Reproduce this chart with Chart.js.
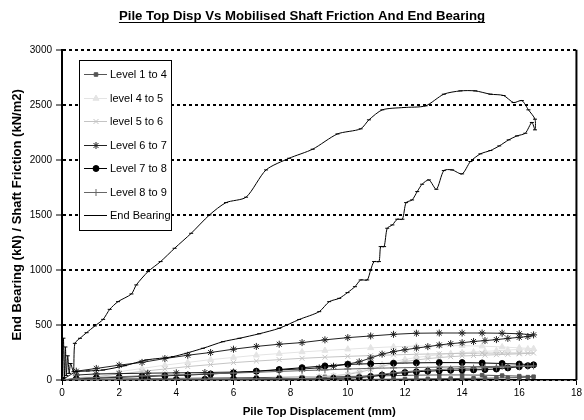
<!DOCTYPE html>
<html>
<head>
<meta charset="utf-8">
<script src="https://cdn.jsdelivr.net/npm/chart.js@4.4.1/dist/chart.umd.min.js"></script>
<style>
  html, body { margin: 0; padding: 0; background: #fff; }
  #chart { display: block; }
</style>
</head>
<body>
<canvas id="chart" width="584" height="420"></canvas>
<script>
// pile top displacement (mm) along the load / unload path, shared by the shaft friction levels
const dispPath = [0, 0.5, 1.2, 2.0, 2.8, 3.6, 4.4, 5.2, 6.0, 6.8, 7.6, 8.4, 9.2, 10.0, 10.8, 11.6, 12.4, 13.2, 14.0, 14.7, 15.4, 16.0, 16.5,
    16.3, 16.0, 15.6, 15.2, 14.8, 14.4, 14.0, 13.6, 13.2, 12.8, 12.4, 12.0, 11.6, 11.2, 10.8, 10.4, 10.0, 9.5, 9.0, 8.4, 7.6, 6.8, 6.0, 5.0, 4.0, 3.0, 2.0, 1.2, 0.5];

// mobilised shaft friction (kN/m2)
const level1to4 = [0, 5, 8, 10, 12, 14, 16, 18, 20, 22, 24, 26, 28, 32, 36, 40, 44, 46, 46, 44, 40, 35, 30,
    26, 22, 20, 18, 16, 15, 14, 13, 12, 11, 10, 9, 8, 7, 6, 6, 5, 5, 4, 4, 3, 3, 3, 2, 2, 2, 1, 1, 1];
const level4to5 = [0, 20, 45, 75, 105, 135, 160, 185, 205, 225, 240, 255, 268, 280, 292, 302, 308, 312, 312, 308, 300, 292, 285,
    282, 278, 272, 266, 260, 254, 248, 240, 230, 218, 204, 188, 168, 140, 110, 80, 55, 40, 30, 22, 16, 12, 10, 8, 6, 5, 4, 3, 2];
const level5to6 = [0, 12, 30, 55, 78, 100, 122, 140, 158, 172, 185, 197, 207, 215, 222, 228, 234, 238, 242, 244, 245, 245, 245,
    242, 238, 234, 230, 226, 222, 218, 212, 204, 194, 182, 168, 150, 125, 95, 70, 50, 38, 28, 20, 15, 11, 9, 7, 6, 5, 4, 3, 2];
const level6to7 = [0, 80, 105, 135, 160, 195, 225, 250, 280, 305, 325, 340, 365, 385, 400, 415, 425, 427, 427, 427, 425, 420, 410,
    395, 388, 378, 367, 358, 350, 339, 330, 318, 303, 290, 275, 258, 235, 200, 165, 145, 125, 110, 100, 92, 78, 72, 68, 65, 62, 58, 55, 45];
const level7to8 = [0, 10, 18, 25, 32, 38, 45, 55, 65, 80, 95, 112, 128, 142, 148, 152, 156, 158, 158, 155, 150, 145, 138,
    130, 120, 110, 100, 95, 92, 90, 88, 85, 80, 75, 68, 58, 45, 32, 22, 18, 15, 12, 10, 9, 8, 7, 6, 5, 4, 3, 2, 1];
const level8to9 = [0, 15, 22, 30, 37, 44, 50, 57, 63, 70, 78, 85, 92, 100, 106, 110, 114, 117, 120, 122, 124, 126, 128,
    125, 122, 118, 115, 112, 108, 105, 100, 95, 90, 83, 75, 65, 52, 40, 30, 24, 20, 16, 13, 11, 10, 9, 8, 7, 6, 5, 4, 3];

// end bearing (kN) has its own, finer displacement record
const endBearingDisp = [0, 0.05, 0.08, 0.12, 0.15, 0.2, 0.25, 0.3, 0.4, 0.45,
    0.63, 0.86, 1.15, 1.44, 1.67, 1.96, 2.43, 2.6, 3.01, 3.45, 3.94, 4.52, 5.16, 5.74, 6.44, 7.14, 7.95, 8.77, 9.64, 10.45,
    10.74, 11.21, 11.96, 12.72, 13.36, 13.94, 14.46, 14.99, 15.45, 15.8, 16.09, 16.32, 16.55, 16.55, 16.44,
    16.21, 15.92, 15.63, 15.3, 14.99, 14.64, 14.29, 14.0, 13.65, 13.36, 13.1, 12.84, 12.6, 12.43, 12.25,
    12.04, 11.91, 11.73, 11.56, 11.38, 11.27, 11.15, 11.09, 10.92, 10.8, 10.68, 10.45, 10.25, 9.99, 9.7,
    9.35, 9.0, 8.3, 7.6, 6.9, 6.21, 5.63, 4.93, 3.88, 2.95, 2.2, 1.44, 0.9, 0.5];
const endBearing = [0, 380, 20, 300, 40, 220, 60, 150, 75, 333,
    379, 430, 491, 551, 642, 712, 782, 864, 985, 1076, 1197, 1333, 1500, 1612, 1661, 1909, 2015, 2097, 2236, 2282,
    2364, 2455, 2476, 2491, 2597, 2627, 2627, 2597, 2585, 2521, 2539, 2455, 2370, 2273, 2340,
    2242, 2218, 2182, 2127, 2085, 2055, 1985, 1873, 1909, 1903, 1733, 1818, 1779, 1712, 1636,
    1612, 1461, 1461, 1409, 1379, 1212, 1212, 1076, 1076, 1000, 909, 909, 848, 794, 742,
    712, 621, 550, 470, 420, 379, 348, 288, 212, 182, 130, 91, 82, 78];

const xTicks = [0, 2, 4, 6, 8, 10, 12, 14, 16, 18];
const yTicks = [0, 500, 1000, 1500, 2000, 2500, 3000];

const FONT = "'Liberation Sans', Arial, sans-serif";
const TITLE = 'Pile Top Disp Vs Mobilised Shaft Friction And End Bearing';
const TITLE_SIZE = 13.2;

function toPoints(xs, ys) {
    return ys.map((y, i) => ({ x: xs[i], y: y }));
}

function series(label, xs, ys, color, style, radius, fill, order, tension) {
    return {
        label: label,
        data: toPoints(xs, ys),
        showLine: true,
        borderColor: color,
        backgroundColor: fill,
        borderWidth: 1,
        pointStyle: style,
        pointRadius: radius,
        pointBorderColor: color,
        pointBackgroundColor: fill,
        pointBorderWidth: 1,
        tension: tension,
        order: order
    };
}

// legend box sits inside the plot, top left
const insideLegend = {
    id: 'insideLegend',
    afterDraw(chart) {
        const ctx = chart.ctx;
        const x0 = 79, y0 = 60, w = 92, h = 170;
        ctx.save();
        ctx.fillStyle = '#fff';
        ctx.fillRect(x0, y0, w, h);
        ctx.strokeStyle = '#000';
        ctx.lineWidth = 1;
        ctx.strokeRect(x0 + 0.5, y0 + 0.5, w, h);
        ctx.font = '11px ' + FONT;
        ctx.textBaseline = 'middle';
        chart.data.datasets.forEach((ds, i) => {
            const y = Math.round(y0 + 14 + i * 23.5) + 0.5;
            ctx.strokeStyle = ds.borderColor;
            ctx.lineWidth = ds.borderWidth;
            ctx.beginPath();
            ctx.moveTo(x0 + 5, y);
            ctx.lineTo(x0 + 28, y);
            ctx.stroke();
            ctx.fillStyle = ds.pointBackgroundColor;
            ctx.strokeStyle = ds.pointBorderColor;
            Chart.helpers.drawPoint(ctx, { pointStyle: ds.pointStyle, radius: ds.pointRadius, borderWidth: 1, rotation: 0 }, x0 + 17, y);
            ctx.fillStyle = '#000';
            ctx.fillText(ds.label, x0 + 31, y);
        });
        ctx.restore();
    }
};

// underlined title + solid right edge of the plot area
const frame = {
    id: 'frame',
    afterDraw(chart) {
        const ctx = chart.ctx;
        const area = chart.chartArea;
        ctx.save();
        ctx.strokeStyle = '#000';
        ctx.lineWidth = 2;
        ctx.beginPath();
        ctx.moveTo(area.right, area.top);
        ctx.lineTo(area.right, area.bottom);
        ctx.stroke();

        const tb = chart.titleBlock;
        ctx.font = 'bold ' + TITLE_SIZE + 'px ' + FONT;
        const tw = ctx.measureText(TITLE).width;
        const cx = (tb.left + tb.right) / 2;
        ctx.lineWidth = 1;
        ctx.beginPath();
        ctx.moveTo(cx - tw / 2, 22.5);
        ctx.lineTo(cx + tw / 2, 22.5);
        ctx.stroke();
        ctx.restore();
    }
};

document.addEventListener('DOMContentLoaded', () => {
    const ctx = document.getElementById('chart').getContext('2d');
    new Chart(ctx, {
        type: 'scatter',
        data: {
            datasets: [
                series('Level 1 to 4', dispPath, level1to4, '#555555', 'rect', 2.5, '#555555', 7, 0),
                series('level 4 to 5', dispPath, level4to5, '#e4e4e4', 'triangle', 3.5, '#e4e4e4', 6, 0),
                series('level 5 to 6', dispPath, level5to6, '#c4c4c4', 'crossRot', 3.5, '#c4c4c4', 5, 0),
                series('Level 6 to 7', dispPath, level6to7, '#222222', 'star', 3.5, '#222222', 4, 0),
                series('Level 7 to 8', dispPath, level7to8, '#000000', 'circle', 3, '#000000', 3, 0),
                series('Level 8 to 9', dispPath, level8to9, '#666666', 'cross', 3.5, '#666666', 2, 0),
                series('End Bearing', endBearingDisp, endBearing, '#000000', 'line', 2, '#000000', 1, 0.25)
            ]
        },
        options: {
            responsive: false,
            animation: false,
            layout: { padding: { left: 26, right: 6, top: 0, bottom: 0 } },
            plugins: {
                legend: { display: false },
                tooltip: { enabled: false },
                title: {
                    display: true,
                    text: TITLE,
                    color: '#000',
                    font: { family: FONT, size: TITLE_SIZE, weight: 'bold' },
                    padding: { top: 8, bottom: 26 }
                }
            },
            scales: {
                x: {
                    type: 'linear',
                    min: 0,
                    max: 18,
                    afterBuildTicks: s => { s.ticks = xTicks.map(v => ({ value: v })); },
                    afterFit: s => { s.height = 40; },
                    ticks: { color: '#000', font: { family: FONT, size: 10 }, padding: 2, maxRotation: 0, callback: v => String(v) },
                    grid: { drawOnChartArea: false, drawTicks: true, tickLength: 5, color: '#000' },
                    border: { color: '#000', width: 1.5 },
                    title: {
                        display: true,
                        text: 'Pile Top Displacement (mm)',
                        color: '#000',
                        font: { family: FONT, size: 11.5, weight: 'bold' },
                        padding: { top: 0, bottom: 1 }
                    }
                },
                y: {
                    min: 0,
                    max: 3000,
                    afterBuildTicks: s => { s.ticks = yTicks.map(v => ({ value: v })); },
                    afterFit: s => { s.width = 36; },
                    ticks: { color: '#000', font: { family: FONT, size: 10 }, padding: 4, callback: v => String(v) },
                    grid: { color: '#000', lineWidth: 2, drawTicks: true, tickLength: 6, tickColor: '#000', tickWidth: 1 },
                    border: { color: '#000', width: 2, dash: [3, 3] },
                    title: {
                        display: true,
                        text: 'End Bearing (kN) / Shaft Friction (kN/m2)',
                        color: '#000',
                        font: { family: FONT, size: 13, weight: 'bold' },
                        padding: { top: -16, bottom: 0 }
                    }
                }
            }
        },
        plugins: [insideLegend, frame]
    });
});
</script>
</body>
</html>
